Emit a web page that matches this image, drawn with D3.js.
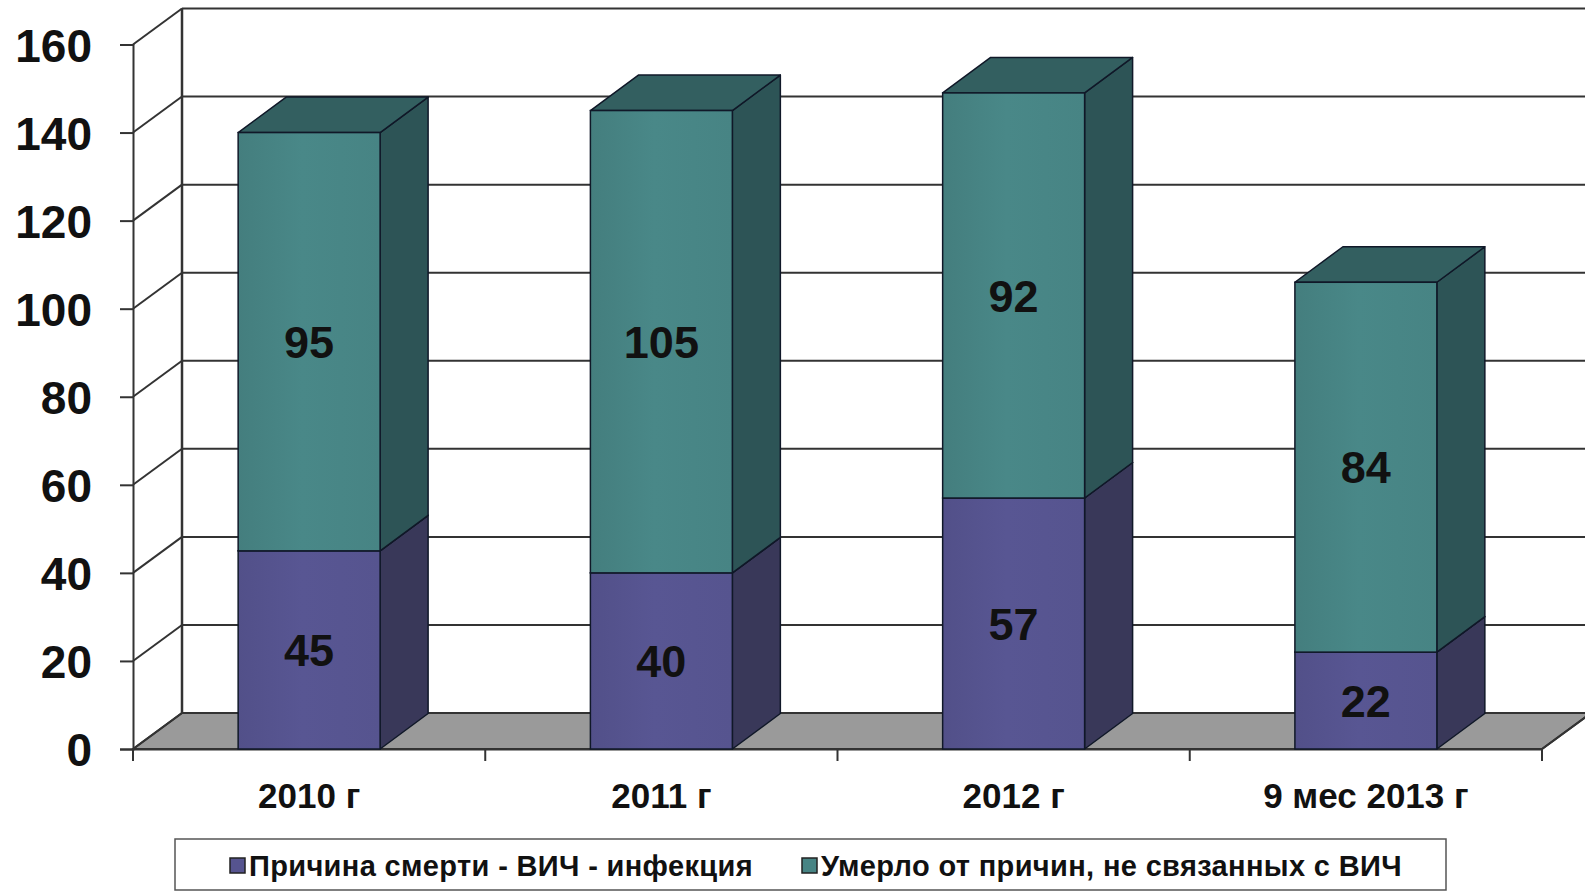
<!DOCTYPE html>
<html><head><meta charset="utf-8">
<script src="https://cdn.jsdelivr.net/npm/d3@7"></script>
<style>
html,body{margin:0;padding:0;background:#fff;}
svg{display:block;}
text{font-family:"Liberation Sans",Arial,sans-serif;font-weight:bold;fill:#111;}
</style></head>
<body>
<svg id="chart" width="1585" height="891"></svg>
<script>
const categories = ["2010 г", "2011 г", "2012 г", "9 мес 2013 г"];
const hivDeaths = [45, 40, 57, 22];
const otherDeaths = [95, 105, 92, 84];
const seriesNames = ["Причина смерти - ВИЧ - инфекция", "Умерло от причин, не связанных с ВИЧ"];
const yTicks = [0, 20, 40, 60, 80, 100, 120, 140, 160];

const svg = d3.select("#chart");
const x0 = 133, x1 = 1542, yBase = 749, yTop = 44.5;
const DX = 49, DY = -36;          // depth offset of back wall
const BDX = 48, BDY = -35.5;      // depth offset of bars
const x = d3.scaleBand().domain(categories).range([x0, x1]).padding(0);
const y = d3.scaleLinear().domain([0, 160]).range([yBase, yTop]);
const barW = x.bandwidth() * 0.403;

const colors = [
  {front: "#56548f", side: "#393859", top: "#45447a"},
  {front: "#478484", side: "#2d5456", top: "#335f60"}
];
const lineCol = "#333";

const defs = svg.append("defs");
colors.forEach((c, i) => {
  const g = defs.append("linearGradient").attr("id", "fg" + i).attr("x1", "0").attr("x2", "1").attr("y1", "0").attr("y2", "0");
  g.append("stop").attr("offset", "0").attr("stop-color", d3.color(c.front).darker(0.12));
  g.append("stop").attr("offset", "0.45").attr("stop-color", d3.color(c.front).brighter(0.08));
  g.append("stop").attr("offset", "1").attr("stop-color", c.front);
});

// floor
svg.append("polygon")
  .attr("points", [[x0, yBase], [x0 + DX, yBase + DY], [x1 + DX, yBase + DY], [x1, yBase]].join(" "))
  .attr("fill", "#9a9a9a").attr("stroke", lineCol).attr("stroke-width", 2);

// back wall gridlines
const grid = svg.append("g");
yTicks.forEach(t => {
  if (t > 0) {
    grid.append("line").attr("x1", x0 + DX).attr("x2", 1600)
      .attr("y1", y(t) + DY).attr("y2", y(t) + DY)
      .attr("stroke", lineCol).attr("stroke-width", 2);
  }
  grid.append("line").attr("x1", x0).attr("y1", y(t))
    .attr("x2", x0 + DX).attr("y2", y(t) + DY)
    .attr("stroke", lineCol).attr("stroke-width", 2);
});
grid.append("line").attr("x1", x0 + DX).attr("x2", x0 + DX)
  .attr("y1", y(160) + DY).attr("y2", yBase + DY)
  .attr("stroke", lineCol).attr("stroke-width", 2.5);

// y axis
const yAxis = d3.axisLeft(y).tickValues(yTicks).tickSize(13).tickPadding(28);
const ya = svg.append("g").attr("transform", `translate(${x0},0)`).call(yAxis);
ya.select(".domain").attr("stroke", lineCol).attr("stroke-width", 2);
ya.selectAll(".tick line").attr("stroke", lineCol).attr("stroke-width", 2);
ya.selectAll(".tick text").style("font-size", "46px").style("font-family", "'Liberation Sans', Arial, sans-serif")
  .style("font-weight", "bold").attr("fill", "#111").attr("dy", "0.36em");

// x axis
const xAxis = d3.axisBottom(x).tickSize(0).tickPadding(34);
const xa = svg.append("g").attr("transform", `translate(0,${yBase})`).call(xAxis);
xa.select(".domain").attr("stroke", lineCol).attr("stroke-width", 2);
xa.selectAll(".tick text").style("font-size", "35px").style("font-family", "'Liberation Sans', Arial, sans-serif")
  .style("font-weight", "bold").attr("fill", "#111");
const sepTicks = categories.map(c => x(c)).concat([x1]);
svg.append("g").selectAll("line").data(sepTicks).join("line")
  .attr("x1", d => d).attr("x2", d => d).attr("y1", yBase).attr("y2", yBase + 12)
  .attr("stroke", lineCol).attr("stroke-width", 2);
svg.append("line").attr("x1", x1).attr("y1", yBase).attr("x2", x1 + DX).attr("y2", yBase + DY)
  .attr("stroke", lineCol).attr("stroke-width", 2);

// bars
const stack = categories.map((c, i) => [
  {s: 0, y0: 0, y1: hivDeaths[i], v: hivDeaths[i]},
  {s: 1, y0: hivDeaths[i], y1: hivDeaths[i] + otherDeaths[i], v: otherDeaths[i]}
]);
const bars = svg.append("g");
categories.forEach((c, i) => {
  const cx = x(c) + x.bandwidth() / 2;
  const bl = cx - barW / 2, br = cx + barW / 2;
  stack[i].forEach(seg => {
    const col = colors[seg.s];
    const yt = y(seg.y1), yb = y(seg.y0);
    const g = bars.append("g");
    g.append("polygon")
      .attr("points", [[br, yb], [br + BDX, yb + BDY], [br + BDX, yt + BDY], [br, yt]].join(" "))
      .attr("fill", col.side).attr("stroke", "#101828").attr("stroke-width", 1.5).attr("stroke-linejoin", "round");
    g.append("polygon")
      .attr("points", [[bl, yt], [bl + BDX, yt + BDY], [br + BDX, yt + BDY], [br, yt]].join(" "))
      .attr("fill", col.top).attr("stroke", "#101828").attr("stroke-width", 1.5).attr("stroke-linejoin", "round");
    g.append("rect").attr("x", bl).attr("y", yt).attr("width", barW).attr("height", yb - yt)
      .attr("fill", `url(#fg${seg.s})`).attr("stroke", "#101828").attr("stroke-width", 1.5);
    g.append("text").attr("x", cx).attr("y", (yt + yb) / 2).attr("dy", "0.36em")
      .attr("text-anchor", "middle").style("font-size", "45px").text(seg.v);
  });
});

// legend
const lg = svg.append("g");
lg.append("rect").attr("x", 175).attr("y", 839).attr("width", 1271).attr("height", 51)
  .attr("fill", "#fff").attr("stroke", "#555").attr("stroke-width", 1.5);
const legendX = [230, 802];
seriesNames.forEach((n, i) => {
  lg.append("rect").attr("x", legendX[i]).attr("y", 858).attr("width", 15).attr("height", 15)
    .attr("fill", colors[i].front).attr("stroke", "#222").attr("stroke-width", 1.5);
  lg.append("text").attr("x", legendX[i] + 19).attr("y", 866).attr("dy", "0.36em")
    .style("font-size", "29px").style("letter-spacing", "0.35px").text(n);
});
</script>
</body></html>
